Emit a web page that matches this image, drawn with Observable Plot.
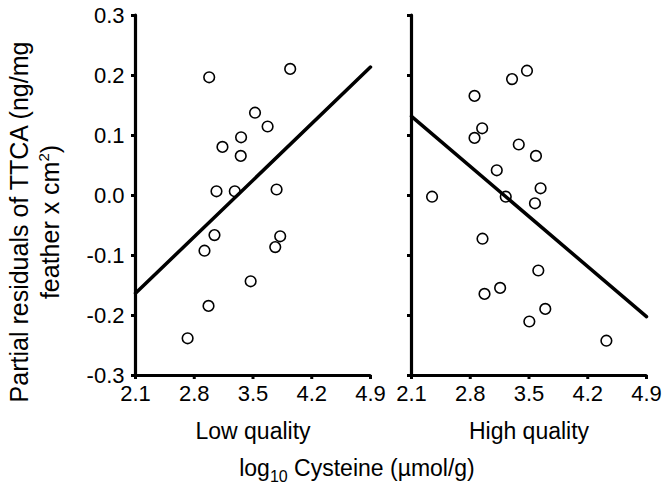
<!DOCTYPE html>
<html>
<head>
<meta charset="utf-8">
<script src="https://cdn.jsdelivr.net/npm/d3@7"></script>
<script src="https://cdn.jsdelivr.net/npm/@observablehq/plot@0.6"></script>
<style>
  html, body { margin: 0; padding: 0; background: #fff; }
  #chart { width: 667px; height: 489px; }
</style>
</head>
<body>
<div id="chart"></div>
<script>
// ---- data ----
const panels = ["Low quality", "High quality"];
const xTicks = [2.1, 2.8, 3.5, 4.2, 4.9];
const yTicks = [-0.3, -0.2, -0.1, 0.0, 0.1, 0.2, 0.3];

const lowX = [2.978, 3.943, 3.524, 3.674, 3.358, 3.136, 3.354, 3.065, 3.283, 3.781, 3.041, 2.922, 3.824, 3.765, 3.472, 2.970, 2.721];
const lowY = [0.197, 0.211, 0.138, 0.115, 0.097, 0.081, 0.066, 0.007, 0.007, 0.010, -0.066, -0.092, -0.068, -0.086, -0.143, -0.184, -0.238];

const highX = [2.345, 2.851, 3.298, 3.476, 2.942, 2.851, 3.378, 3.583, 3.116, 3.223, 3.638, 3.571, 2.946, 3.611, 3.156, 2.970, 3.694, 3.504, 4.422];
const highY = [-0.002, 0.166, 0.194, 0.208, 0.112, 0.096, 0.085, 0.066, 0.042, -0.002, 0.012, -0.013, -0.072, -0.125, -0.154, -0.164, -0.189, -0.210, -0.242];

const fitX = [2.1, 4.9];
const lowFitY = [-0.163, 0.214];
const highFitY = [0.132, -0.202];

// ---- tables ----
const points = [
  ...lowX.map((x, i) => ({panel: panels[0], x, y: lowY[i]})),
  ...highX.map((x, i) => ({panel: panels[1], x, y: highY[i]}))
];
const fits = [
  ...fitX.map((x, i) => ({panel: panels[0], x, y: lowFitY[i]})),
  ...fitX.map((x, i) => ({panel: panels[1], x, y: highFitY[i]}))
];

const font = "'Liberation Sans', Arial, sans-serif";
const fmt = d => d.toFixed(1);

const svg = Plot.plot({
  width: 667,
  height: 489,
  marginLeft: 134,
  marginRight: 20,
  marginTop: 15,
  marginBottom: 114,
  style: {fontFamily: font, fontSize: "22px", color: "#000", background: "#fff"},
  fx: {domain: panels, paddingInner: 0.148, paddingOuter: 0, axis: null},
  x: {domain: [2.1, 4.9], axis: null},
  y: {domain: [-0.3, 0.3], axis: null},
  marks: [
    // x axis ticks & labels (each panel)
    Plot.axisX(xTicks, {anchor: "bottom", tickSize: 4, tickPadding: 6, strokeWidth: 3,
      tickFormat: fmt, fontSize: 22, label: null, facetAnchor: null}),
    // y ticks on every panel
    Plot.axisY(yTicks, {anchor: "left", tickSize: 4, strokeWidth: 3,
      tickFormat: () => "", label: null, facetAnchor: null}),
    // y labels on left panel only
    Plot.axisY(yTicks, {anchor: "left", tickSize: 0, tickPadding: 11,
      tickFormat: fmt, fontSize: 22, label: null, facetAnchor: "left"}),
    // axis lines
    Plot.ruleX([2.1], {strokeWidth: 3.2, strokeLinecap: "round"}),
    Plot.ruleY([-0.3], {strokeWidth: 3.2, strokeLinecap: "round"}),
    // fit lines
    Plot.line(fits, {fx: "panel", x: "x", y: "y", z: "panel", stroke: "#000", strokeWidth: 3.5}),
    // points
    Plot.dot(points, {fx: "panel", x: "x", y: "y", r: 5.3, stroke: "#000", strokeWidth: 1.6, fill: "none"}),
    // panel labels
    Plot.text(panels, {fx: d => d, text: d => d, frameAnchor: "bottom", dy: 63, fontSize: 23})
  ]
});

// axis titles
const s = d3.select(svg);
const xt = s.append("text")
  .attr("x", 357).attr("y", 476)
  .attr("text-anchor", "middle")
  .attr("font-family", font).attr("font-size", 23).attr("fill", "#000");
xt.append("tspan").text("log");
xt.append("tspan").attr("font-size", 16).attr("dy", 6).text("10");
xt.append("tspan").attr("dy", -6).text(" Cysteine (µmol/g)");

const yt = s.append("text")
  .attr("transform", "translate(28,222) rotate(-90)")
  .attr("text-anchor", "middle")
  .attr("font-family", font).attr("font-size", 25).attr("fill", "#000");
yt.append("tspan").attr("x", 0).attr("dy", 0).text("Partial residuals of TTCA (ng/mg");
yt.append("tspan").attr("x", 0).attr("dy", 31).text("feather x cm");
yt.append("tspan").attr("font-size", 15).attr("dy", -10).text("2");
yt.append("tspan").attr("dy", 10).text(")");

document.getElementById("chart").appendChild(svg);
</script>
</body>
</html>
